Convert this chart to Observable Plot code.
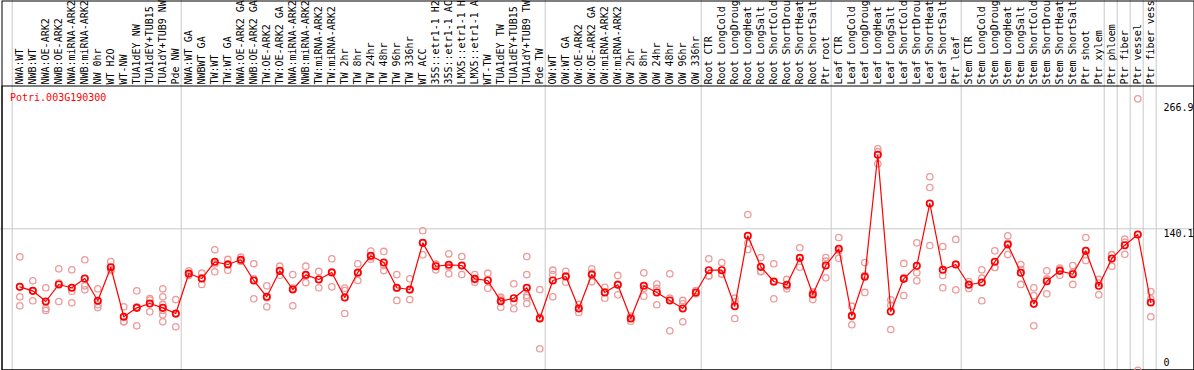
<!DOCTYPE html>
<html><head><meta charset="utf-8">
<script src="https://cdn.jsdelivr.net/npm/d3@7"></script>
<script src="https://cdn.jsdelivr.net/npm/@observablehq/plot@0.6"></script>
<style>
html,body{margin:0;padding:0;background:#fff;}
svg{display:block}
</style></head><body><div id="chart"></div>
<script>
const geneId = "Potri.003G190300";
const samples = ["NWA:WT","NWB:WT","NWA:OE-ARK2","NWB:OE-ARK2","NWA:miRNA-ARK2","NWB:miRNA-ARK2","NW 0hr","WT H2O","WT-NW","TUA1dEY NW","TUA1dEY+TUB15","TUA1dY+TUB9 NW","Pde NW",
"NWA:WT GA","NWBWT GA","TW:WT","TW:WT GA","NWA:OE-ARK2 GA","NWB:OE-ARK2 GA","TW:OE-ARK2","TW:OE-ARK2 GA","NWA:miRNA-ARK2","NWB:miRNA-ARK2","TW:miRNA-ARK2","TW:miRNA-ARK2","TW 2hr","TW 8hr","TW 24hr","TW 48hr","TW 96hr","TW 336hr","WT ACC","35S::etr1-1 H2O","35S::etr1-1 ACC","LMX5::etr1-1 H2O","LMX5::etr1-1 ACC","WT-TW","TUA1dEY TW","TUA1dEY+TUB15","TUA1dY+TUB9 TW","Pde TW",
"OW:WT","OW:WT GA","OW:OE-ARK2","OW:OE-ARK2 GA","OW:miRNA-ARK2","OW:miRNA-ARK2","OW 2hr","OW 8hr","OW 24hr","OW 48hr","OW 96hr","OW 336hr",
"Root CTR","Root LongCold","Root LongDrought","Root LongHeat","Root LongSalt","Root ShortCold","Root ShortDrought","Root ShortHeat","Root ShortSalt","Ptr root",
"Leaf CTR","Leaf LongCold","Leaf LongDrought","Leaf LongHeat","Leaf LongSalt","Leaf ShortCold","Leaf ShortDrought","Leaf ShortHeat","Leaf ShortSalt","Ptr leaf",
"Stem CTR","Stem LongCold","Stem LongDrought","Stem LongHeat","Stem LongSalt","Stem ShortCold","Stem ShortDrought","Stem ShortHeat","Stem ShortSalt","Ptr shoot","Ptr xylem",
"Ptr phloem","Ptr fiber","Ptr vessel","Ptr fiber vessel"];

const means = [83.5, 79.6, 69.2, 85.8, 82.6, 91.6, 69.9, 102.6, 54.3, 63.0, 67.2, 63.0, 57.5,
 96.5, 91.6, 107.9, 105.3, 109.9, 89.7, 73.8, 99.1, 80.9, 95.2, 90.7, 97.5, 73.1, 97.5, 113.8, 107.2, 82.6, 80.9, 126.4, 103.6, 105.0, 104.3, 91.3, 89.7, 69.5, 72.4, 82.6, 52.6,
 89.7, 93.6, 62.4, 95.5, 78.0, 85.5, 52.6, 84.5, 78.0, 70.2, 62.4, 78.0,
 99.7, 99.7, 64.6, 133.3, 103.0, 88.7, 85.5, 111.8, 76.0, 104.3,
 120.6, 55.2, 93.3, 212.3, 59.4, 91.3, 104.0, 164.8, 100.1, 105.3,
 85.5, 87.7, 107.9, 124.8, 97.2, 66.9, 89.0, 99.1, 95.8, 118.6, 84.5,
 111.1, 124.1, 134.5, 68.2];

const replicates = [
 [112.8,73.8,65.0],[89.4,69.9,79.5],[82.6,62.4,60.4],[101.1,69.2,87.1],[100.1,79.2,67.9],[109.9,84.5,80.6],[81.6,66.0,63.3],[108.2,100.4,99.2],[64.0,49.4,49.5],[79.6,45.5,63.9],[70.5,59.1,72.0],[81.6,73.8,66.3,60.4,56.2,49.4],[71.1,44.5,56.9],
 [99.1,94.6,95.8],[96.8,85.8,92.2],[119.6,98.2,105.9],[110.2,99.7,106.0],[112.4,108.5,108.8],[106.0,71.8,91.3],[84.5,64.0,72.9],[103.6,94.8,98.9],[95.5,65.0,82.2],[103.6,87.7,94.3],[98.5,82.6,91.0],[110.8,83.5,98.2],[82.2,79.9,57.5],[106.0,89.7,96.8],[118.3,110.5,112.6],[118.0,99.4,104.2],[95.5,70.2,82.1],[91.3,71.1,80.3],[138.2,114.7,126.3],[105.6,100.1,105.1],[115.7,96.2,103.1],[113.1,95.5,104.3],[95.5,88.0,90.4],[96.8,82.2,90.1],[73.4,63.6,71.5],[86.5,62.1,68.6],[113.1,95.5,75.0,73.1,67.2],[80.9,23.1,53.8],
 [99.7,95.5,73.8],[98.7,88.0,94.1],[58.5,62.4,66.3],[101.1,88.4,97.0],[83.1,72.4,78.5],[94.6,75.7,86.2],[54.9,50.0,52.9],[97.2,74.4,81.9],[86.1,66.0,81.9],[96.2,40.6,72.4],[70.2,49.4,66.9],[79.9,76.7,77.4],
 [110.8,94.3,94.0],[107.2,95.8,96.1],[72.4,52.6,68.8],[154.0,119.9,126.0],[112.1,98.2,98.7],[106.0,71.8,88.3],[90.7,81.6,84.2],[121.6,102.6,111.2],[71.1,78.7,78.2],[112.1,92.3,108.5],
 [131.6,111.4,118.8],[64.6,46.5,54.5],[107.2,78.0,94.7],[218.1,203.5,215.3],[70.9,41.9,65.4],[106.3,75.0,92.6],[126.4,89.4,97.2],[190.8,180.4,123.8],[122.8,94.6,82.6],[129.7,80.6,105.6],
 [88.7,85.9,81.9],[100.1,91.9,69.9],[118.6,102.4,102.7],[133.3,115.0,126.1],[105.3,85.8,100.5],[82.6,45.5,75.0],[99.1,76.7,91.2],[101.7,94.8,100.8],[104.3,85.8,97.3],[131.6,109.2,115.0],[90.7,75.7,87.1],
 [115.0,103.6,114.7],[130.0,115.3,127.0],[266.9,2.1],[78.9,54.3,71.8]
];

const groupStarts = [0, 13, 41, 53, 63, 73, 84, 85, 86, 87, 88];
const refLine = 140.1;
const yTicks = [0, 140.1, 266.9];
const yMax = 266.9;

const meanData = samples.map((s, i) => ({i, sample: s, value: means[i]}));
const repData = replicates.flatMap((arr, i) => arr.map(v => ({i, value: v})));

const red = "#ff0000", pink = "#ee9a9a", grid = "#c8c8c8";
const font = "DejaVu Sans Mono";

const chart = Plot.plot({
  width: 1194, height: 370,
  marginTop: 0, marginBottom: 0, marginLeft: 0, marginRight: 0,
  style: {fontFamily: font, fontSize: "10px", background: "#fff", overflow: "hidden"},
  x: {type: "linear", domain: [0, samples.length - 1], range: [19.3, 1150.3], axis: null},
  y: {type: "linear", domain: [0, yMax], range: [371.94, 98.3], axis: null},
  marks: [
    Plot.ruleY([refLine], {stroke: grid, strokeWidth: 1}),
    Plot.ruleX(groupStarts, {x: d => d - 0.585, stroke: grid, strokeWidth: 1}),
    Plot.frame({stroke: "black", insetTop: 0.5, insetLeft: 1.5, insetRight: 0.5, insetBottom: 0.5}),
    Plot.frame({stroke: "black", insetTop: 85.5, insetLeft: 1.5, insetRight: 0.5, insetBottom: 0.5}),
    Plot.text(samples, {x: (d, i) => i, text: d => d, frameAnchor: "top", dy: 84, rotate: -90, textAnchor: "start", lineAnchor: "middle", fill: "black", fontSize: 10}),
    Plot.text([geneId], {frameAnchor: "top-left", dx: 9.5, dy: 97, textAnchor: "start", lineAnchor: "middle", fill: red, fontSize: 10}),
    Plot.text(yTicks.filter(d => d === 0), {y: d => d, text: d => String(d), frameAnchor: "right", dx: -31, dy: -10, textAnchor: "start", lineAnchor: "middle", fill: "black"}),
    Plot.text(yTicks.filter(d => d === 140.1), {y: d => d, text: d => d.toFixed(1), frameAnchor: "right", dx: -31, dy: 4.7, textAnchor: "start", lineAnchor: "middle", fill: "black"}),
    Plot.text(yTicks.filter(d => d === 266.9), {y: d => d, text: d => d.toFixed(1), frameAnchor: "right", dx: -31, dy: 9.2, textAnchor: "start", lineAnchor: "middle", fill: "black"}),
    Plot.dot(repData, {x: "i", y: "value", r: 3.2, stroke: pink, strokeWidth: 1.3, fill: "none"}),
    Plot.line(meanData, {x: "i", y: "value", stroke: red, strokeWidth: 1.2}),
    Plot.dot(meanData, {x: "i", y: "value", r: 3.2, stroke: red, strokeWidth: 1.7, fill: "none"})
  ]
});
document.getElementById("chart").appendChild(chart);
</script>
</body></html>
